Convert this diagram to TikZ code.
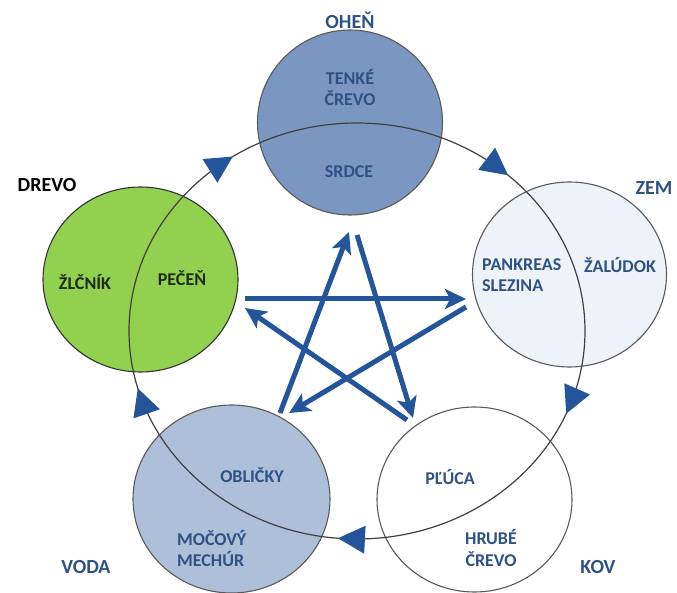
\documentclass[tikz,border=0pt]{standalone}
\usepackage{fontspec}
\setmainfont{Carlito}
\usetikzlibrary{arrows.meta,calc,shapes.geometric}
\definecolor{starblue}{HTML}{24559A}
\definecolor{txtblue}{HTML}{2F5285}
\definecolor{firefill}{HTML}{7B97C1}
\definecolor{woodfill}{HTML}{92D050}
\definecolor{earthfill}{HTML}{EEF2F9}
\definecolor{waterfill}{HTML}{ADBFD9}
\definecolor{greentxt}{HTML}{1F2B14}
\begin{document}
\begin{tikzpicture}[x=1pt,y=-1pt,
  elem/.style={ellipse, draw=black!65, line width=1.1pt, inner sep=0pt},
  lbl/.style={font=\bfseries\fontsize{18}{21}\selectfont, text=txtblue, align=center, inner sep=0pt},
  outer/.style={font=\bfseries\fontsize{20}{22}\selectfont, text=txtblue, inner sep=0pt},
  ctl/.style={draw=starblue, line width=5pt, -{Stealth[length=21pt,width=20pt,inset=5pt]}},
  cyc/.style={ellipse, draw=black!75, line width=1.2pt, inner sep=0pt},
  head/.style={fill=starblue}]
\useasboundingbox (0,0) rectangle (677,593);

% element circles
\node[elem, fill=firefill, minimum width=185pt, minimum height=185pt] (ohen) at (350,122.5) {};
\node[elem, fill=woodfill, draw=black!80, minimum width=195pt, minimum height=185pt] (drevo) at (140.5,279.5) {};
\node[elem, fill=earthfill, minimum width=194pt, minimum height=185pt] (zem) at (569.5,274.5) {};
\node[elem, fill=waterfill, minimum width=197pt, minimum height=188pt] (voda) at (231.5,499) {};
\node[elem, fill=white, minimum width=195pt, minimum height=185pt] (kov) at (474.5,499.5) {};

% generating cycle
\node[cyc, minimum width=456pt, minimum height=416pt] (kruh) at (357,331) {};
\foreach \t [count=\i] in {237,311.5,23.4,94.8,164} {
  \coordinate (tip\i) at ({357+228*cos(\t)},{331+208*sin(\t)});
  \coordinate (bk\i) at ({357+228*cos(\t-3)},{331+208*sin(\t-3)});
  \coordinate (bs\i) at ($(tip\i)!27pt!(bk\i)$);
  \fill[head] (tip\i) -- ($(bs\i)!14pt!90:(tip\i)$) -- ($(bs\i)!14pt!-90:(tip\i)$) -- cycle;
}

% controlling star
\coordinate (a1) at (245,299); \coordinate (a2) at (466,299);
\coordinate (b1) at (466,307); \coordinate (b2) at (289,413);
\coordinate (c1) at (280,413); \coordinate (c2) at (349,232);
\coordinate (d1) at (357,235); \coordinate (d2) at (413,418);
\coordinate (e1) at (407,420); \coordinate (e2) at (245,308);
\draw[ctl] (a1) -- (a2);
\draw[ctl] (b1) -- (b2);
\draw[ctl] (c1) -- (c2);
\draw[ctl] (d1) -- (d2);
\draw[ctl] (e1) -- (e2);

% labels
\node[outer] (lohen) at (350,20) {OHEŇ};
\node[outer, text=black] (ldrevo) at (47,185) {DREVO};
\node[outer] (lzem) at (654,188) {ZEM};
\node[outer] (lkov) at (598,567) {KOV};
\node[outer] (lvoda) at (86,567) {VODA};

\node[lbl] (tenke) at (350,88) {TENKÉ\\ČREVO};
\node[lbl] (srdce) at (349,172) {SRDCE};
\node[lbl, text=greentxt] (zlcnik) at (85,282) {ŽLČNÍK};
\node[lbl, text=greentxt] (pecen) at (182,278) {PEČEŇ};
\node[lbl, anchor=west, align=left] (pankreas) at (482,275) {PANKREAS\\SLEZINA};
\node[lbl] (zaludok) at (620,265) {ŽALÚDOK};
\node[lbl] (oblicky) at (252,475) {OBLIČKY};
\node[lbl, anchor=west, align=left] (mocovy) at (177,549) {MOČOVÝ\\MECHÚR};
\node[lbl] (pluca) at (450,477) {PĽÚCA};
\node[lbl] (hrube) at (491,548) {HRUBÉ\\ČREVO};
\end{tikzpicture}
\end{document}
